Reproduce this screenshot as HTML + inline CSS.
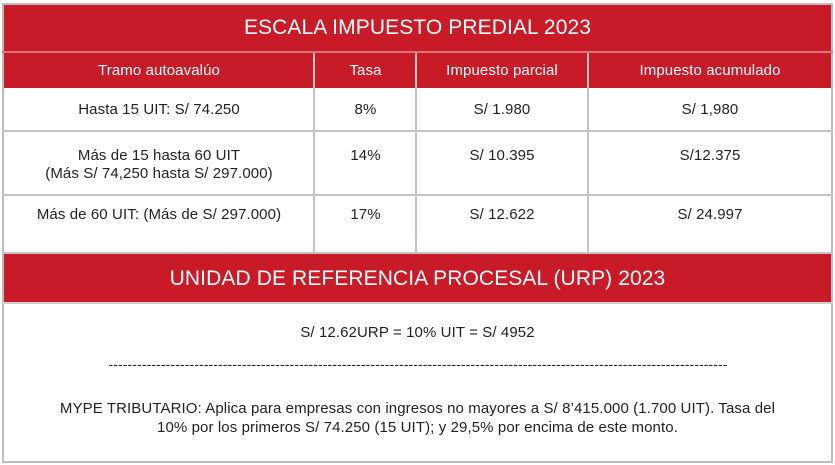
<!DOCTYPE html><html><head><style>
body{margin:0;width:835px;height:465px;background:#fff;font-family:"Liberation Sans",sans-serif;position:relative;overflow:hidden}
div{position:absolute;box-sizing:border-box}
.t{display:flex;align-items:center;justify-content:center;text-align:center;font-size:15px;color:#222;letter-spacing:0.1px}
.r{background:#c91b27;color:#fff !important}
.v{width:2px;background:#c4c4c4}
.h{height:2px;background:#c4c4c4;left:2px;width:831px}
</style></head><body>
<div style="left:2px;top:3px;width:831px;height:460px;border:2px solid #bdbdbd"></div>
<div class="r t" style="left:4px;top:5px;width:827px;height:46px;font-size:21px">ESCALA IMPUESTO PREDIAL 2023</div>
<div class="h" style="top:51px;background:#d8747a"></div>
<div class="r" style="left:4px;top:53px;width:827px;height:35px"></div>
<div class="t" style="left:4px;top:53px;width:310px;height:35px;color:#fff">Tramo autoavalúo</div>
<div class="t" style="left:316px;top:53px;width:99px;height:35px;color:#fff">Tasa</div>
<div class="t" style="left:417px;top:53px;width:170px;height:35px;color:#fff">Impuesto parcial</div>
<div class="t" style="left:589px;top:53px;width:242px;height:35px;color:#fff">Impuesto acumulado</div>
<div class="v" style="left:313px;top:53px;height:199px"></div>
<div class="v" style="left:415px;top:53px;height:199px"></div>
<div class="v" style="left:587px;top:53px;height:199px"></div>
<div class="h" style="top:130px"></div>
<div class="h" style="top:194px"></div>
<div class="t" style="left:4px;top:88px;width:310px;height:42px">Hasta 15 UIT: S/ 74.250</div>
<div class="t" style="left:316px;top:88px;width:99px;height:42px">8%</div>
<div class="t" style="left:417px;top:88px;width:170px;height:42px">S/ 1.980</div>
<div class="t" style="left:589px;top:88px;width:242px;height:42px">S/ 1,980</div>
<div class="t" style="left:4px;top:145px;width:310px;height:40px;line-height:18px">Más de 15 hasta 60 UIT<br>(Más S/ 74,250 hasta S/ 297.000)</div>
<div class="t" style="left:316px;top:145px;width:99px;height:20px">14%</div>
<div class="t" style="left:417px;top:145px;width:170px;height:20px">S/ 10.395</div>
<div class="t" style="left:589px;top:145px;width:242px;height:20px">S/12.375</div>
<div class="t" style="left:4px;top:203px;width:310px;height:22px">Más de 60 UIT: (Más de S/ 297.000)</div>
<div class="t" style="left:316px;top:203px;width:99px;height:22px">17%</div>
<div class="t" style="left:417px;top:203px;width:170px;height:22px">S/ 12.622</div>
<div class="t" style="left:589px;top:203px;width:242px;height:22px">S/ 24.997</div>
<div class="h" style="top:252px"></div>
<div class="r t" style="left:4px;top:254px;width:827px;height:49px;font-size:21px">UNIDAD DE REFERENCIA PROCESAL (URP) 2023</div>
<div class="h" style="top:302px;background:#d0d0d0"></div>
<div class="t" style="left:4px;top:322px;width:827px;height:20px">S/ 12.62URP = 10% UIT = S/ 4952</div>
<div class="t" style="left:4px;top:356px;width:827px;height:16px;overflow:hidden;white-space:nowrap;font-size:14px"><span style="display:inline-block;width:618px;overflow:hidden">------------------------------------------------------------------------------------------------------------------------------------------------------------------</span></div>
<div class="t" style="left:4px;top:398px;width:827px;height:40px;line-height:19px">MYPE TRIBUTARIO: Aplica para empresas con ingresos no mayores a S/ 8’415.000 (1.700 UIT). Tasa del<br>10% por los primeros S/ 74.250 (15 UIT); y 29,5% por encima de este monto.</div>
</body></html>
